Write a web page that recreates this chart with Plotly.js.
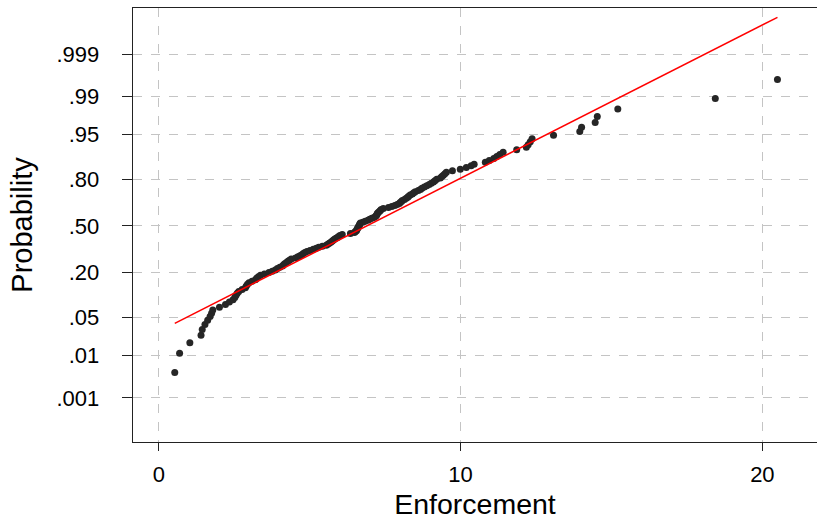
<!DOCTYPE html>
<html>
<head>
<meta charset="utf-8">
<script src="https://cdn.plot.ly/plotly-3.0.1.min.js"></script>
<style>html,body{margin:0;padding:0;background:#fff;}#chart{width:817px;height:529px;}</style>
</head>
<body>
<div id="chart"></div>
<script>
const enforcement = [
  0.53, 0.69, 1.03, 1.40, 1.44, 1.53, 1.62, 1.70, 1.75, 1.79,
  2.01, 2.21, 2.34, 2.46, 2.52, 2.56, 2.60, 2.65, 2.76, 2.87,
  2.90, 2.94, 2.99, 3.09, 3.20, 3.25, 3.30, 3.37, 3.50, 3.65,
  3.76, 3.86, 3.93, 4.01, 4.10, 4.13, 4.17, 4.23, 4.28, 4.33,
  4.39, 4.53, 4.61, 4.68, 4.74, 4.79, 4.84, 4.91, 5.01, 5.12,
  5.22, 5.30, 5.42, 5.55, 5.60, 5.65, 5.70, 5.74, 5.78, 5.82,
  5.87, 5.92, 5.96, 6.00, 6.08, 6.35, 6.48, 6.51, 6.55, 6.56,
  6.58, 6.60, 6.61, 6.63, 6.65, 6.66, 6.68, 6.76, 6.84, 6.93,
  6.99, 7.06, 7.13, 7.18, 7.21, 7.23, 7.24, 7.27, 7.31, 7.34,
  7.37, 7.44, 7.61, 7.72, 7.82, 7.90, 7.97, 8.00, 8.04, 8.07,
  8.14, 8.20, 8.25, 8.28, 8.33, 8.40, 8.45, 8.50, 8.60, 8.67,
  8.72, 8.80, 8.88, 8.96, 9.03, 9.10, 9.15, 9.21, 9.33, 9.38,
  9.43, 9.48, 9.53, 9.73, 9.99, 10.19, 10.35, 10.45, 10.82, 10.95,
  11.10, 11.20, 11.30, 11.41, 11.86, 12.18, 12.24, 12.31, 12.37, 13.08,
  13.95, 14.01, 14.46, 14.53, 15.21, 18.44, 20.50
];
// Probability-axis ticks
const probTicks = [0.001, 0.01, 0.05, 0.20, 0.50, 0.80, 0.95, 0.99, 0.999];
const probTickText = ['.001', '.01', '.05', '.20', '.50', '.80', '.95', '.99', '.999'];
// Reference normal line parameters
const fitMean = 6.89;
const fitSd = 3.63;
// x ticks
const xTicks = [0, 10, 20];

function normInv(p) {
  const a=[-3.969683028665376e+01,2.209460984245205e+02,-2.759285104469687e+02,1.383577518672690e+02,-3.066479806614716e+01,2.506628277459239e+00];
  const b=[-5.447609879822406e+01,1.615858368580409e+02,-1.556989798598866e+02,6.680131188771972e+01,-1.328068155288572e+01];
  const c=[-7.784894002430293e-03,-3.223964580411365e-01,-2.400758277161838e+00,-2.549732539343734e+00,4.374664141464968e+00,2.938163982698783e+00];
  const d=[7.784695709041462e-03,3.224671290700398e-01,2.445134137142996e+00,3.754408661907416e+00];
  const pl=0.02425, ph=1-pl; let q, r;
  if (p < pl) { q=Math.sqrt(-2*Math.log(p)); return (((((c[0]*q+c[1])*q+c[2])*q+c[3])*q+c[4])*q+c[5])/((((d[0]*q+d[1])*q+d[2])*q+d[3])*q+1); }
  if (p <= ph) { q=p-0.5; r=q*q; return (((((a[0]*r+a[1])*r+a[2])*r+a[3])*r+a[4])*r+a[5])*q/(((((b[0]*r+b[1])*r+b[2])*r+b[3])*r+b[4])*r+1); }
  q=Math.sqrt(-2*Math.log(1-p)); return -(((((c[0]*q+c[1])*q+c[2])*q+c[3])*q+c[4])*q+c[5])/((((d[0]*q+d[1])*q+d[2])*q+d[3])*q+1);
}

const n = enforcement.length;
// Blom plotting positions on the normal-probability scale
const zPts = enforcement.map((v, i) => normInv((i + 1 - 0.375) / (n + 0.25)));
const xMin = enforcement[0], xMax = enforcement[n - 1];
const lineX = [xMin, xMax];
const lineZ = lineX.map(v => (v - fitMean) / fitSd);

const font = "'Liberation Sans', Arial, Helvetica, sans-serif";

const traces = [
  {
    x: enforcement, y: zPts, type: 'scatter', mode: 'markers',
    marker: {color: '#262626', size: 7, symbol: 'circle'},
    hoverinfo: 'skip'
  },
  {
    x: lineX, y: lineZ, type: 'scatter', mode: 'lines',
    line: {color: '#ff0000', width: 1.5},
    hoverinfo: 'skip'
  }
];

const layout = {
  width: 817, height: 529,
  margin: {l: 133, r: 0, t: 8, b: 87, pad: 0},
  paper_bgcolor: '#ffffff', plot_bgcolor: '#ffffff',
  showlegend: false,
  font: {family: font, color: '#000', size: 22},
  xaxis: {
    range: [-0.854, 21.81],
    tickvals: xTicks, ticktext: xTicks.map(String),
    showgrid: true, gridcolor: '#c4c4c4', griddash: 'dash', gridwidth: 1,
    zeroline: false,
    showline: true, linecolor: '#222', linewidth: 1.3, mirror: true,
    ticks: 'outside', ticklen: 8, tickcolor: '#222', tickwidth: 1,
    tickfont: {family: font, size: 22, color: '#000'},
    ticklabelstandoff: 4,
    title: {text: 'Enforcement', font: {family: font, size: 28.5, color: '#000'}, standoff: 8}
  },
  yaxis: {
    range: [-3.883, 3.917],
    tickvals: probTicks.map(normInv), ticktext: probTickText,
    showgrid: true, gridcolor: '#c4c4c4', griddash: 'dash', gridwidth: 1,
    zeroline: false,
    showline: true, linecolor: '#222', linewidth: 1.3,
    ticks: 'outside', ticklen: 10, tickcolor: '#222', tickwidth: 1,
    tickfont: {family: font, size: 22, color: '#000'},
    ticklabelstandoff: 18,
    title: {text: 'Probability', font: {family: font, size: 29, color: '#000'}, standoff: 15}
  }
};

Plotly.newPlot('chart', traces, layout, {staticPlot: true, displayModeBar: false});
</script>
</body>
</html>
